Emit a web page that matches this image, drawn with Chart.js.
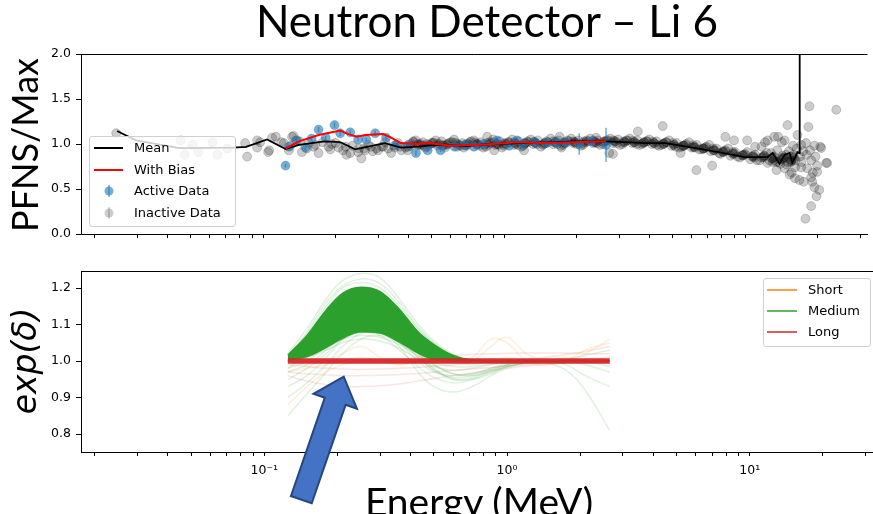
<!DOCTYPE html>
<html>
<head>
<meta charset="utf-8">
<script src="https://cdn.jsdelivr.net/npm/chart.js@4.4.1/dist/chart.umd.min.js"></script>
<style>
  html, body { margin: 0; padding: 0; background: #fff; width: 873px; height: 514px; overflow: hidden; }
  #wrap { position: relative; width: 873px; height: 514px; }
  canvas { position: absolute; left: 0; }
  #top { top: 0; }
  #bottom { top: 245px; }
  .txt { position: absolute; white-space: nowrap; line-height: 1; color: #000; }
  #title { font-family: Lato, sans-serif; font-size: 44px; left: 487px; top: -2px; transform: translateX(-50%); }
  #xlab { font-family: Lato, sans-serif; font-size: 39px; left: 479px; top: 482px; transform: translateX(-50%); }
  #ylab1 { font-family: Lato, sans-serif; font-size: 36px; left: 24px; top: 145px; transform: translate(-50%, -50%) rotate(-90deg); }
  #ylab2 { font-family: "DejaVu Sans", sans-serif; font-style: italic; font-size: 33px; left: 24px; top: 361px; transform: translate(-50%, -50%) rotate(-90deg); }
  .legend { position: absolute; box-sizing: border-box; border: 1px solid #d0d0d0; border-radius: 3px; background: rgba(255,255,255,0.8); font-family: "DejaVu Sans", sans-serif; font-size: 13px; color: #000; }
  .row { position: absolute; left: 0; height: 20px; line-height: 20px; width: 100%; }
  .row svg { position: absolute; top: 0; }
  .row span { position: absolute; left: 44px; top: 0; }
</style>
</head>
<body>
<div id="wrap">
  <canvas id="top" width="873" height="245"></canvas>
  <canvas id="bottom" width="873" height="269"></canvas>
  <div class="txt" id="title">Neutron Detector – Li 6</div>
  <div class="txt" id="ylab1">PFNS/Max</div>
  <div class="txt" id="ylab2">exp(δ)</div>
  <div class="txt" id="xlab">Energy (MeV)</div>

  <div class="legend" id="leg1" style="left:89px; top:136px; width:147px; height:91px;">
    <div class="row" style="top:1px"><svg style="left:4px" width="30" height="20"><line x1="0" y1="10" x2="29" y2="10" stroke="#000" stroke-width="2"/></svg><span>Mean</span></div>
    <div class="row" style="top:22.5px"><svg style="left:4px" width="30" height="20"><line x1="0" y1="10" x2="29" y2="10" stroke="#ff0000" stroke-width="2"/></svg><span>With Bias</span></div>
    <div class="row" style="top:44px"><svg style="left:4px" width="30" height="20"><line x1="15" y1="4" x2="15" y2="16" stroke="rgba(31,119,180,0.6)" stroke-width="1.5"/><circle cx="15" cy="10" r="4.5" fill="rgba(31,119,180,0.6)"/></svg><span>Active Data</span></div>
    <div class="row" style="top:65.5px"><svg style="left:4px" width="30" height="20"><line x1="15" y1="4" x2="15" y2="16" stroke="rgba(0,0,0,0.2)" stroke-width="1.5"/><circle cx="15" cy="10" r="4.5" fill="rgba(0,0,0,0.2)"/></svg><span>Inactive Data</span></div>
  </div>

  <div class="legend" id="leg2" style="left:763px; top:278px; width:108px; height:69px;">
    <div class="row" style="top:1px"><svg style="left:3px" width="30" height="20"><line x1="0" y1="10" x2="30" y2="10" stroke="rgba(255,127,14,0.75)" stroke-width="2"/></svg><span>Short</span></div>
    <div class="row" style="top:22px"><svg style="left:3px" width="30" height="20"><line x1="0" y1="10" x2="30" y2="10" stroke="rgba(44,160,44,0.75)" stroke-width="2"/></svg><span>Medium</span></div>
    <div class="row" style="top:43px"><svg style="left:3px" width="30" height="20"><line x1="0" y1="10" x2="30" y2="10" stroke="rgba(214,39,40,0.75)" stroke-width="2"/></svg><span>Long</span></div>
  </div>
</div>

<script>
// x axis (shared, log)
const xTickValues = [0.02, 0.03, 0.04, 0.05, 0.06, 0.07, 0.08, 0.09, 0.1, 0.2, 0.3, 0.4, 0.5, 0.6, 0.7, 0.8, 0.9, 1, 2, 3, 4, 5, 6, 7, 8, 9, 10, 20, 30];
const xTickLabels = ["", "", "", "", "", "", "", "", "10⁻¹", "", "", "", "", "", "", "", "", "10⁰", "", "", "", "", "", "", "", "", "10¹", "", ""];
const yTicksTop = [0, 0.5, 1.0, 1.5, 2.0];
const yTicksBottom = [0.8, 0.9, 1.0, 1.1, 1.2];

// top panel: PFNS / Max
const meanE = [0.0248, 0.0297, 0.045, 0.075, 0.085, 0.104, 0.124, 0.141, 0.180, 0.209, 0.241, 0.273, 0.321, 0.373, 0.438, 0.515, 0.70, 0.88, 1.2, 2.0, 2.65, 3.88, 4.68, 6.23, 7.75, 10.0, 12.4, 13.0, 13.9, 14.6, 15.3, 15.7, 16.5, 16.8, 16.85];
const meanY = [1.144, 1.04, 0.955, 0.96, 0.967, 1.05, 0.945, 0.99, 1.03, 1.02, 0.94, 0.97, 1.01, 0.96, 0.97, 0.99, 0.98, 1.0, 1.01, 1.03, 1.03, 1.01, 1.01, 0.955, 0.91, 0.855, 0.855, 0.9, 0.78, 0.88, 0.9, 0.79, 0.91, 0.9, 3.0];

const biasE = [0.124, 0.141, 0.170, 0.209, 0.226, 0.244, 0.266, 0.315, 0.340, 0.373, 0.438, 0.482, 0.60, 0.70, 0.774, 1.03, 1.10, 1.41, 1.94, 2.65];
const biasY = [0.95, 1.03, 1.10, 1.15, 1.11, 1.08, 1.10, 1.11, 1.07, 1.01, 1.0, 1.01, 0.98, 0.99, 0.99, 1.01, 1.02, 1.01, 1.02, 1.03];

const activeE = [0.124, 0.128, 0.138, 0.150, 0.159, 0.170, 0.182, 0.198, 0.209, 0.230, 0.248, 0.268, 0.292, 0.324, 0.356, 0.399, 0.431, 0.482, 0.545, 0.623, 0.685, 0.75, 0.82, 0.936, 1.05, 1.13, 1.2, 1.34, 1.5, 1.65, 1.8, 2.05, 2.3, 2.65];
const activeY = [0.76, 0.97, 1.04, 0.96, 1.06, 1.16, 1.07, 1.21, 1.12, 1.13, 1.05, 1.05, 1.12, 1.07, 0.99, 0.99, 0.90, 0.93, 0.93, 0.97, 0.99, 0.97, 1.0, 1.04, 0.98, 1.04, 1.0, 1.02, 1.01, 1.02, 1.02, 1.0, 1.03, 0.99];
const activeErr = [0.02, 0.02, 0.02, 0.02, 0.02, 0.03, 0.02, 0.03, 0.03, 0.03, 0.02, 0.02, 0.03, 0.03, 0.02, 0.02, 0.03, 0.02, 0.02, 0.02, 0.02, 0.02, 0.02, 0.03, 0.02, 0.03, 0.02, 0.03, 0.03, 0.06, 0.04, 0.12, 0.04, 0.19];

const inactiveE = [
  0.0246, 0.0455, 0.0473, 0.051, 0.054, 0.0617, 0.0647, 0.0711, 0.0843, 0.0859, 0.0945, 0.0945, 0.0973, 0.105, 0.106, 0.109, 0.113, 0.119, 0.122, 0.128, 0.132,
  0.134, 0.137, 0.145, 0.155, 0.162, 0.170, 0.187, 0.193, 0.206, 0.220, 0.222, 0.230, 0.248, 0.256, 0.262, 0.273, 0.285, 0.300, 0.310, 0.321, 0.340, 0.352, 0.363, 0.375, 0.399, 0.41,
  0.13, 0.142, 0.152, 0.165, 0.177, 0.19, 0.2, 0.215, 0.235, 0.25, 0.265, 0.28, 0.295, 0.315, 0.33, 0.35, 0.37, 0.39,
  0.40, 0.42, 0.44, 0.46, 0.48, 0.50, 0.53, 0.55, 0.58, 0.61, 0.64, 0.67, 0.70, 0.73, 0.77, 0.80, 0.84, 0.88, 0.92, 0.96, 1.0, 1.05, 1.1, 1.15, 1.2, 1.26, 1.32, 1.38, 1.45, 1.52, 1.6, 1.68, 1.76, 1.85, 1.94, 2.03, 2.13, 2.23, 2.34, 2.45, 2.57, 2.7, 2.83, 2.97, 3.1, 3.25, 3.4, 3.57, 3.74, 3.92, 4.1, 4.3, 4.5, 4.72, 4.95, 5.2, 5.45, 5.7, 6.0, 6.3, 6.6, 6.9, 7.2, 7.6, 7.9, 8.3, 8.7, 9.1, 9.5, 10.0, 10.5, 11.0, 11.5, 12.0, 12.6, 13.2, 13.8, 14.4, 15.0, 15.7,
  0.41, 0.45, 0.49, 0.54, 0.59, 0.65, 0.71, 0.78, 0.86, 0.94, 1.02, 1.12, 1.23, 1.35, 1.48, 1.64, 1.8, 1.98, 2.18, 2.4, 2.63, 2.9, 3.17, 3.48, 3.82, 4.2, 4.6, 5.07, 5.57, 6.15, 6.75, 7.4, 8.1, 8.9, 9.75, 10.7, 11.7, 12.9, 14.1, 15.3,
  0.43, 0.47, 0.52, 0.57, 0.62, 0.68, 0.75, 0.82, 0.9, 0.98, 1.08, 1.18, 1.29, 1.42, 1.56, 1.72, 1.9, 2.08, 2.28, 2.5, 2.76, 3.03, 3.33, 3.65, 4.0, 4.4, 4.84, 5.32, 5.85, 6.45, 7.1, 7.8, 8.5, 9.3, 10.2, 11.2, 12.3, 13.5, 14.8, 16.2,
  0.45, 0.51, 0.56, 0.63, 0.69, 0.76, 0.83, 0.91, 1.0, 1.1, 1.21, 1.33, 1.46, 1.6, 1.76, 1.94, 2.13, 2.35, 2.58, 2.84, 3.12, 3.43, 3.78, 4.15, 4.57, 5.03, 5.53, 6.08, 6.7, 7.35, 8.1, 8.9, 9.8, 10.8, 11.9, 13.1, 14.4, 15.8,
  0.42, 0.465, 0.505, 0.555, 0.6, 0.66, 0.72, 0.79, 0.87, 0.95, 1.04, 1.14, 1.25, 1.37, 1.5, 1.66, 1.83, 2.0, 2.2, 2.43, 2.67, 2.93, 3.22, 3.55, 3.9, 4.3, 4.7, 5.15, 5.65, 6.2, 6.85, 7.5, 8.25, 9.05, 9.95, 10.9, 12.0, 13.2, 14.5, 15.5,
  0.44, 0.48, 0.53, 0.58, 0.64, 0.7, 0.77, 0.85, 0.93, 1.01, 1.11, 1.22, 1.34, 1.47, 1.62, 1.78, 1.96, 2.15, 2.37, 2.6, 2.86, 3.15, 3.46, 3.8, 4.18, 4.6, 5.05, 5.55, 6.1, 6.7, 7.4, 8.1, 8.9, 9.8, 10.8, 11.9, 13.0, 14.3, 15.6, 16.0,
  0.851, 0.91, 1.21, 1.70, 1.73, 2.41, 2.73, 2.83, 3.59, 4.55, 5.4, 6.28, 7.3, 8.28, 9.0, 10.2, 11.0, 11.7, 12.1, 12.4, 12.4, 13.2, 13.5, 13.7, 14.2, 14.6, 14.6, 14.9, 15.0, 15.3, 15.6, 15.8, 16.1, 16.1, 16.5, 16.8, 17.1, 17.1, 17.1, 17.5, 17.8, 17.9, 18.1, 18.3, 18.5, 18.8, 18.8, 18.8, 19.0, 19.1, 19.4, 19.4, 19.8, 19.9, 19.9, 20.3, 20.5, 20.7, 21.7, 21.9, 23.9,
  12.8, 13.6, 14.3, 15.2, 15.9, 16.4, 16.9, 17.4, 18.0, 18.6, 19.6, 13.0, 14.0, 15.5
];
const inactiveY = [
  1.12, 1.04, 0.88, 0.99, 0.91, 1.02, 0.88, 0.95, 1.01, 0.86, 0.96, 1.04, 1.02, 0.91, 0.93, 1.07, 1.08, 1.02, 1.01, 0.93, 1.08,
  1.09, 1.04, 0.91, 1.01, 0.97, 0.90, 0.97, 1.0, 0.96, 0.97, 0.88, 0.90, 0.91, 0.84, 0.95, 0.99, 0.92, 0.93, 0.97, 1.02, 0.90, 0.96, 1.01, 0.93, 0.93, 0.98,
  0.98, 1.03, 0.95, 0.99, 1.02, 0.94, 1.01, 0.93, 0.98, 0.95, 0.93, 0.97, 0.95, 0.97, 0.95, 0.98, 0.97, 0.96,
  0.97, 1.03, 0.99, 1.02, 0.97, 1.01, 0.98, 1.03, 0.99, 1.02, 0.97, 1.01, 0.98, 1.03, 0.99, 1.02, 0.97, 1.01, 0.99, 1.03, 0.98, 1.02, 0.99, 1.03, 0.98, 1.02, 1.0, 1.04, 0.99, 1.02, 1.0, 1.04, 0.99, 1.03, 1.01, 1.04, 0.99, 1.03, 1.01, 1.04, 1.0, 1.04, 1.01, 1.05, 1.0, 1.04, 1.01, 1.04, 1.0, 1.03, 1.0, 1.03, 0.99, 1.02, 0.98, 1.01, 0.97, 1.0, 0.96, 0.99, 0.94, 0.97, 0.92, 0.95, 0.89, 0.93, 0.87, 0.91, 0.85, 0.89, 0.83, 0.88, 0.82, 0.87, 0.82, 0.86, 0.80, 0.85, 0.80, 0.86,
  1.0, 1.0, 0.99, 1.0, 1.01, 0.99, 1.0, 1.0, 0.99, 1.0, 1.0, 1.0, 1.01, 1.01, 1.01, 1.02, 1.01, 1.02, 1.02, 1.02, 1.03, 1.03, 1.02, 1.02, 1.02, 1.01, 1.01, 0.99, 0.98, 0.97, 0.95, 0.93, 0.91, 0.89, 0.87, 0.86, 0.85, 0.84, 0.83, 0.83,
  1.04, 0.96, 1.04, 0.96, 1.05, 0.96, 1.04, 0.96, 1.05, 0.96, 1.05, 0.97, 1.05, 0.97, 1.06, 0.98, 1.06, 0.98, 1.06, 0.99, 1.06, 0.99, 1.06, 0.99, 1.05, 0.98, 1.04, 0.96, 1.02, 0.94, 0.99, 0.90, 0.95, 0.86, 0.91, 0.82, 0.90, 0.80, 0.88, 0.82,
  0.985, 1.015, 0.985, 1.015, 0.985, 1.015, 0.99, 1.02, 1.0, 1.02, 1.0, 1.025, 1.0, 1.03, 1.01, 1.03, 1.01, 1.035, 1.02, 1.04, 1.02, 1.035, 1.01, 1.025, 1.0, 1.01, 0.98, 0.985, 0.95, 0.95, 0.92, 0.91, 0.88, 0.87, 0.86, 0.85, 0.84, 0.85,
  1.02, 0.98, 1.01, 0.98, 1.02, 0.98, 1.02, 0.98, 1.02, 0.99, 1.02, 0.99, 1.03, 1.0, 1.03, 1.0, 1.04, 1.0, 1.04, 1.01, 1.04, 1.01, 1.04, 1.0, 1.03, 0.99, 1.02, 0.97, 0.99, 0.96, 0.96, 0.93, 0.92, 0.89, 0.88, 0.85, 0.87, 0.82, 0.85, 0.81,
  1.0, 1.0, 1.0, 1.0, 1.0, 1.0, 1.0, 1.01, 1.0, 1.01, 1.01, 1.01, 1.02, 1.01, 1.02, 1.02, 1.02, 1.03, 1.02, 1.03, 1.03, 1.03, 1.02, 1.02, 1.01, 1.0, 0.99, 0.98, 0.965, 0.95, 0.93, 0.91, 0.895, 0.875, 0.86, 0.85, 0.84, 0.83, 0.82, 0.84,
  1.08, 0.93, 0.93, 1.08, 0.96, 1.07, 0.90, 0.89, 1.14, 1.2, 0.9, 0.71, 0.76, 1.08, 1.04, 1.04, 0.97, 0.97, 1.02, 1.04, 0.79, 1.08, 0.71, 1.08, 1.02, 1.04, 0.73, 0.77, 1.21, 0.66, 0.68, 0.98, 0.62, 0.74, 1.1, 0.6, 0.99, 0.8, 0.74, 0.58, 0.17, 1.01, 0.73, 1.19, 1.42, 0.63, 0.31, 0.82, 0.58, 0.68, 0.98, 0.52, 0.42, 0.76, 0.69, 0.49, 0.97, 0.955, 0.79, 0.79, 1.38,
  0.9, 0.93, 0.87, 0.92, 0.88, 0.95, 0.86, 0.92, 0.88, 0.93, 0.86, 0.8, 0.78, 0.8
];

// bottom panel: exp(delta) samples
const bE = [0.125, 0.15, 0.18, 0.21, 0.25, 0.3, 0.36, 0.43, 0.5, 0.6, 0.72, 0.86, 1.0, 1.2, 1.45, 1.75, 2.1, 2.65];
const mediumUpper = [1.016, 1.07, 1.14, 1.185, 1.202, 1.19, 1.142, 1.08, 1.045, 1.015, 1.002, 1.0, 1.0, 1.0, 1.0, 1.0, 1.0, 1.0];
const mediumLower = [1.0, 1.01, 1.035, 1.06, 1.078, 1.075, 1.05, 1.02, 1.003, 1.0, 1.0, 1.0, 1.0, 1.0, 1.0, 1.0, 1.0, 1.0];
const mediumCurves = [
  [1.02, 1.09, 1.17, 1.22, 1.24, 1.228, 1.17, 1.1, 1.055, 1.018, 1.003, 1.0, 1.0, 1.0, 1.0, 1.0, 1.0, 1.0],
  [1.01, 1.08, 1.16, 1.205, 1.225, 1.212, 1.16, 1.092, 1.05, 1.016, 1.002, 1.0, 1.0, 1.0, 1.0, 1.0, 1.0, 1.0],
  [1.015, 1.075, 1.15, 1.2, 1.215, 1.2, 1.15, 1.088, 1.048, 1.014, 1.0, 0.998, 1.0, 1.0, 1.0, 1.0, 1.0, 1.0],
  [0.97, 0.99, 1.03, 1.07, 1.09, 1.08, 1.04, 0.97, 0.93, 0.915, 0.93, 0.96, 0.98, 0.995, 1.0, 1.0, 1.0, 1.0],
  [0.95, 0.98, 1.02, 1.06, 1.08, 1.07, 1.03, 0.985, 0.955, 0.94, 0.95, 0.97, 0.985, 0.995, 1.0, 1.0, 1.0, 1.0],
  [0.85, 0.91, 0.97, 1.02, 1.06, 1.07, 1.05, 1.01, 0.975, 0.95, 0.955, 0.975, 0.99, 1.0, 1.0, 0.99, 0.96, 0.93],
  [0.98, 1.0, 1.04, 1.08, 1.1, 1.09, 1.05, 1.0, 0.97, 0.96, 0.965, 0.98, 0.995, 1.0, 0.995, 0.975, 0.92, 0.81],
  [0.9, 0.94, 0.99, 1.04, 1.075, 1.08, 1.06, 1.02, 0.99, 0.965, 0.96, 0.97, 0.985, 0.995, 1.0, 1.005, 1.015, 1.03],
  [0.93, 0.96, 1.01, 1.06, 1.1, 1.1, 1.07, 1.02, 0.98, 0.95, 0.95, 0.965, 0.985, 0.995, 1.0, 1.0, 0.99, 0.97],
  [1.0, 1.04, 1.09, 1.12, 1.13, 1.12, 1.08, 1.03, 0.99, 0.965, 0.965, 0.98, 0.99, 1.0, 1.0, 1.0, 1.0, 1.0],
  [0.98, 1.02, 1.07, 1.1, 1.11, 1.1, 1.065, 1.01, 0.975, 0.955, 0.96, 0.975, 0.99, 1.0, 1.0, 1.0, 1.0, 0.985],
  [1.0, 1.01, 1.03, 1.05, 1.06, 1.055, 1.035, 1.005, 0.985, 0.975, 0.98, 0.99, 0.997, 1.0, 1.0, 1.0, 1.0, 1.0],
  [1.0, 1.015, 1.04, 1.06, 1.07, 1.065, 1.045, 1.015, 0.995, 0.985, 0.985, 0.992, 0.998, 1.0, 1.0, 1.0, 1.0, 1.0]
];
const shortCurves = [
  [1.0, 0.99, 1.0, 1.02, 1.04, 1.01, 0.99, 1.0, 1.0, 1.0, 1.0, 1.04, 1.065, 1.02, 1.0, 1.0, 1.02, 1.06],
  [0.88, 0.93, 0.97, 0.99, 1.0, 1.0, 1.0, 1.0, 1.0, 1.0, 1.01, 1.06, 1.05, 1.0, 0.99, 1.0, 1.03, 1.05],
  [0.97, 0.98, 0.99, 1.0, 1.01, 1.0, 0.99, 1.0, 1.01, 1.0, 0.99, 1.0, 1.01, 1.0, 1.0, 1.01, 1.0, 1.0]
];
const longCurves = [
  [0.96, 0.945, 0.935, 0.93, 0.93, 0.932, 0.937, 0.945, 0.952, 0.96, 0.968, 0.975, 0.98, 0.986, 0.99, 0.995, 0.998, 1.0],
  [0.99, 0.985, 0.98, 0.978, 0.977, 0.978, 0.98, 0.983, 0.986, 0.99, 0.994, 0.998, 1.0, 1.005, 1.01, 1.018, 1.026, 1.04],
  [0.97, 0.965, 0.962, 0.96, 0.96, 0.961, 0.963, 0.966, 0.97, 0.974, 0.978, 0.982, 0.986, 0.99, 0.995, 1.0, 1.005, 1.01],
  [1.0, 1.0, 1.0, 1.0, 1.0, 1.003, 1.006, 1.01, 1.013, 1.016, 1.018, 1.02, 1.021, 1.022, 1.022, 1.022, 1.02, 1.02]
];
const longMeanE = [0.125, 2.65];
const longMeanY = [1.0, 1.0];

// arrow annotation tip (data coords of bottom panel)
const arrowTip = { x: 0.2124, y: 0.957 };

Chart.defaults.font.family = "DejaVu Sans";
Chart.defaults.color = "#000";

// x-axis heights / paddings, corrected after first layout so the plot boxes land where the reference has them
let xAxisHeight = { top: 11, bottom: 62 };
let topPad = { top: 54, left: 0, right: 0, bottom: 0 };
let bottomPad = { top: 26, left: 0, right: 0, bottom: 0 };

function pairs(xs, ys) {
  return xs.map((x, i) => ({ x: x, y: ys[i] }));
}

function errorSegments(xs, ys, errs) {
  let out = [];
  xs.forEach((x, i) => {
    out.push({ x: x, y: ys[i] - errs[i] });
    out.push({ x: x, y: ys[i] + errs[i] });
    out.push({ x: x, y: null });
  });
  return out;
}

function xAxis(showLabels, key) {
  return {
    type: "logarithmic",
    min: 0.01757,
    max: 32.2,
    bounds: "data",
    afterBuildTicks: (ax) => { ax.ticks = xTickValues.map(v => ({ value: v })); },
    afterFit: (ax) => { ax.height = xAxisHeight[key]; ax.paddingLeft = 0; ax.paddingRight = 0; },
    grid: { drawOnChartArea: false, drawTicks: true, tickLength: 4, tickColor: "#000", tickWidth: 1 },
    border: { display: true, color: "#000", width: 1 },
    ticks: {
      display: showLabels, autoSkip: false, maxRotation: 0, minRotation: 0, padding: 7,
      color: "#000", font: { size: 12.5 },
      callback: (v, i) => xTickLabels[i]
    }
  };
}

function yAxis(min, max, tickVals) {
  return {
    min: min,
    max: max,
    bounds: "data",
    afterBuildTicks: (ax) => { ax.ticks = tickVals.map(v => ({ value: v })); },
    afterFit: (ax) => { ax.width = 81; ax.paddingTop = 0; ax.paddingBottom = 0; },
    grid: { drawOnChartArea: false, drawTicks: true, tickLength: 5, tickColor: "#000", tickWidth: 1 },
    border: { display: true, color: "#000", width: 1 },
    ticks: { padding: 5, color: "#000", font: { size: 12.5 }, callback: (v) => Number(v).toFixed(1) }
  };
}

const topSpine = {
  id: "topSpine",
  afterDraw(chart) {
    const ctx = chart.ctx;
    const a = chart.chartArea;
    ctx.save();
    ctx.strokeStyle = "#000";
    ctx.lineWidth = 1;
    ctx.beginPath();
    ctx.moveTo(a.left, Math.round(a.top) + 0.5);
    ctx.lineTo(a.right, Math.round(a.top) + 0.5);
    ctx.stroke();
    ctx.restore();
  }
};

const blueArrow = {
  id: "blueArrow",
  afterDraw(chart) {
    const ctx = chart.ctx;
    const tx = chart.scales.x.getPixelForValue(arrowTip.x);
    const ty = chart.scales.y.getPixelForValue(arrowTip.y);
    const ux = 0.326, uy = -0.9455;   // direction tail -> tip
    const nx = 0.9455, ny = 0.326;
    const headLen = 26, headHalf = 23, shaftHalf = 11, len = 130;
    const pt = (along, side) => [tx - ux * along + nx * side, ty - uy * along + ny * side];
    const poly = [
      [tx, ty],
      pt(headLen, headHalf), pt(headLen, shaftHalf), pt(len, shaftHalf),
      pt(len, -shaftHalf), pt(headLen, -shaftHalf), pt(headLen, -headHalf)
    ];
    ctx.save();
    ctx.beginPath();
    poly.forEach((p, i) => i ? ctx.lineTo(p[0], p[1]) : ctx.moveTo(p[0], p[1]));
    ctx.closePath();
    ctx.fillStyle = "#4472C4";
    ctx.fill();
    ctx.lineWidth = 2;
    ctx.strokeStyle = "#26467f";
    ctx.stroke();
    ctx.restore();
  }
};

function lineSet(xs, ys, color, width, tension) {
  return {
    data: pairs(xs, ys), showLine: true, borderColor: color, borderWidth: width,
    pointRadius: 0, fill: false, tension: tension
  };
}

function pinArea(chart, pad, key, wantTop, wantBottom) {
  for (let k = 0; k < 3; k++) {
    const a = chart.chartArea;
    const dTop = wantTop - a.top;
    const dBottom = wantBottom - a.bottom;
    if (Math.abs(dTop) < 0.25 && Math.abs(dBottom) < 0.25) break;
    pad.top += dTop;
    xAxisHeight[key] -= dBottom;
    chart.update();
  }
}

function createTopChart() {
  return new Chart("top", {
    type: "scatter",
    data: {
      datasets: [
        lineSet(biasE, biasY, "#ff0000", 2, 0),
        lineSet(meanE, meanY, "#000000", 1.8, 0),
        {
          data: pairs(activeE, activeY), pointRadius: 4.5,
          backgroundColor: "rgba(31,119,180,0.6)", borderColor: "rgba(31,119,180,0.35)", borderWidth: 1
        },
        {
          data: errorSegments(activeE, activeY, activeErr), showLine: true, spanGaps: false,
          borderColor: "rgba(31,119,180,0.6)", borderWidth: 1.5, pointRadius: 0
        },
        {
          data: pairs(inactiveE, inactiveY), pointRadius: 4.5,
          backgroundColor: "rgba(0,0,0,0.2)", borderColor: "rgba(0,0,0,0.18)", borderWidth: 1
        }
      ]
    },
    options: {
      responsive: false,
      animation: false,
      events: [],
      layout: { padding: topPad },
      plugins: { legend: { display: false }, tooltip: { enabled: false } },
      scales: { x: xAxis(false, "top"), y: yAxis(0, 2, yTicksTop) }
    },
    plugins: [topSpine]
  });
}

function createBottomChart() {
  let sets = [
    lineSet(longMeanE, longMeanY, "rgba(214,39,40,0.95)", 5.5, 0),
    Object.assign(lineSet(bE, mediumUpper, "#2ca02c", 1.5, 0), {
      fill: "+1", backgroundColor: "#2ca02c", cubicInterpolationMode: "monotone"
    }),
    Object.assign(lineSet(bE, mediumLower, "rgba(44,160,44,0.35)", 1, 0), { cubicInterpolationMode: "monotone" })
  ];
  mediumCurves.forEach(c => sets.push(lineSet(bE, c, "rgba(44,160,44,0.15)", 1.5, 0.4)));
  shortCurves.forEach(c => sets.push(lineSet(bE, c, "rgba(255,127,14,0.14)", 1.5, 0.4)));
  longCurves.forEach(c => sets.push(lineSet(bE, c, "rgba(214,39,40,0.12)", 1.5, 0.4)));

  return new Chart("bottom", {
    type: "scatter",
    data: { datasets: sets },
    options: {
      responsive: false,
      animation: false,
      events: [],
      layout: { padding: bottomPad },
      plugins: { legend: { display: false }, tooltip: { enabled: false } },
      scales: { x: xAxis(true, "bottom"), y: yAxis(0.7507, 1.2466, yTicksBottom) }
    },
    plugins: [topSpine, blueArrow]
  });
}

let topChart = createTopChart();
let bottomChart = createBottomChart();
pinArea(topChart, topPad, "top", 54, 234);
pinArea(bottomChart, bottomPad, "bottom", 26, 207);
</script>
</body>
</html>
